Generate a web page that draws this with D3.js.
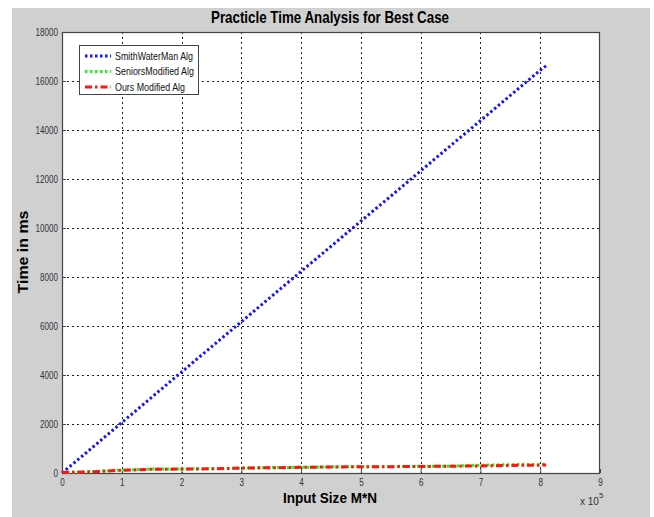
<!DOCTYPE html>
<html><head><meta charset="utf-8">
<script src="https://cdn.jsdelivr.net/npm/d3@7"></script>
<style>body{margin:0;background:#fff}svg{display:block}</style>
</head><body>
<svg id="c" width="654" height="517"></svg>
<script>
const inputSize = [0, 50000, 75000, 100000, 125000, 150000, 200000, 250000, 300000, 350000, 400000, 450000, 500000, 550000, 600000, 650000, 700000, 750000, 800000, 810000];
const smithWaterman = [0, 1020, 1540, 2060, 2570, 3090, 4120, 5150, 6170, 7200, 8230, 9250, 10280, 11300, 12330, 13360, 14380, 15410, 16440, 16620];
const seniorsModified = [10, 60, 90, 120, 140, 160, 165, 175, 205, 220, 235, 250, 255, 262, 272, 280, 320, 340, 350, 355];
const oursModified = [20, 50, 80, 115, 130, 155, 160, 170, 200, 215, 230, 248, 252, 258, 268, 275, 290, 310, 320, 330];
const xTicks = [0, 100000, 200000, 300000, 400000, 500000, 600000, 700000, 800000, 900000];
const xTickLabels = ["0","1","2","3","4","5","6","7","8","9"];
const yTicks = [0, 2000, 4000, 6000, 8000, 10000, 12000, 14000, 16000, 18000];
const seriesNames = ["SmithWaterMan Alg", "SeniorsModified Alg", "Ours Modified Alg"];
const seriesColors = ["#1414ff", "#14ff14", "#ff1414"];
const seriesDash = ["2.5,2.5", "2.5,2.5", "7,3,2.5,3"];
const title = "Practicle Time Analysis for Best Case";
const xLabel = "Input Size M*N";
const yLabel = "Time in ms";

const svg = d3.select("#c");
const L = 62, R = 600, T = 32, B = 473;
const x = d3.scaleLinear().domain([0, 900000]).range([L, R]);
const y = d3.scaleLinear().domain([0, 18000]).range([B, T]);
const font = "'Liberation Sans',Arial,sans-serif";

svg.append("rect").attr("x", 12).attr("y", 8).attr("width", 638).attr("height", 509).attr("fill", "#d0d0d0");
svg.append("rect").attr("x", L).attr("y", T).attr("width", R - L).attr("height", B - T).attr("fill", "#fff");

// grid
const g = svg.append("g");
g.selectAll("line.vg").data(xTicks.slice(1, -1)).join("line")
  .attr("x1", d => Math.round(x(d)) + 0.5).attr("x2", d => Math.round(x(d)) + 0.5)
  .attr("y1", T).attr("y2", B).attr("stroke", "#222").attr("stroke-width", 1).attr("stroke-dasharray", "2,3");
g.selectAll("line.hg").data(yTicks.slice(1, -1)).join("line")
  .attr("y1", d => Math.round(y(d)) + 0.5).attr("y2", d => Math.round(y(d)) + 0.5)
  .attr("x1", L).attr("x2", R).attr("stroke", "#222").attr("stroke-width", 1).attr("stroke-dasharray", "2,3");

// axes
const xa = svg.append("g").attr("transform", `translate(0,${B})`)
  .call(d3.axisBottom(x).tickValues(xTicks).tickFormat((d, i) => xTickLabels[i]).tickSizeInner(-4).tickSizeOuter(0).tickPadding(5));
const ya = svg.append("g").attr("transform", `translate(${L},0)`)
  .call(d3.axisLeft(y).tickValues(yTicks).tickFormat(d3.format("d")).tickSizeInner(-4).tickSizeOuter(0).tickPadding(4));
[xa, ya].forEach(a => {
  a.select(".domain").remove();
  a.selectAll("line").attr("stroke", "#444");
  a.selectAll("text").attr("fill", "#333").style("font-family", font).style("font-size", "11px")
    .attr("textLength", function() { return this.textContent.length * 4.5; })
    .attr("lengthAdjust", "spacingAndGlyphs");
});
svg.append("rect").attr("x", L + 0.5).attr("y", T + 0.5).attr("width", R - L - 1).attr("height", B - T)
  .attr("fill", "none").attr("stroke", "#444").attr("stroke-width", 1.2);

// lines
const allSeries = [smithWaterman, seniorsModified, oursModified];
const line = d3.line().x((d, i) => x(inputSize[i])).y(d => y(d));
allSeries.forEach((s, k) => {
  svg.append("path").datum(s).attr("d", line).attr("fill", "none")
    .attr("stroke", seriesColors[k]).attr("stroke-width", 3).attr("stroke-dasharray", seriesDash[k]);
});

// legend
const lg = svg.append("g");
lg.append("rect").attr("x", 79.5).attr("y", 45.5).attr("width", 119).attr("height", 49)
  .attr("fill", "#fff").attr("stroke", "#444").attr("stroke-width", 1);
const legLens = [78, 79, 70];
seriesNames.forEach((n, k) => {
  const yy = 56 + k * 15.5;
  lg.append("line").attr("x1", 85).attr("x2", 111).attr("y1", yy).attr("y2", yy)
    .attr("stroke", seriesColors[k]).attr("stroke-width", 3).attr("stroke-dasharray", seriesDash[k]);
  lg.append("text").attr("x", 115).attr("y", yy + 3.5).text(n)
    .attr("textLength", legLens[k]).attr("lengthAdjust", "spacingAndGlyphs")
    .style("font-family", font).style("font-size", "10.5px").attr("fill", "#111");
});

// titles
svg.append("text").attr("x", 330).attr("y", 23).attr("text-anchor", "middle").text(title)
  .attr("textLength", 238).attr("lengthAdjust", "spacingAndGlyphs")
  .style("font-family", font).style("font-weight", "bold").style("font-size", "16.5px").attr("fill", "#000");
svg.append("text").attr("x", 330).attr("y", 503).attr("text-anchor", "middle").text(xLabel)
  .attr("textLength", 94).attr("lengthAdjust", "spacingAndGlyphs")
  .style("font-family", font).style("font-weight", "bold").style("font-size", "15px").attr("fill", "#000");
svg.append("text").attr("transform", "translate(28,252) rotate(-90)").attr("text-anchor", "middle").text(yLabel)
  .attr("textLength", 83).attr("lengthAdjust", "spacingAndGlyphs")
  .style("font-family", font).style("font-weight", "bold").style("font-size", "15px").attr("fill", "#000");
const ex = svg.append("text").attr("x", 580).attr("y", 505).style("font-family", font).style("font-size", "10px").attr("fill", "#333");
ex.append("tspan").text("x 10");
ex.append("tspan").attr("dy", -7).style("font-size", "8px").text("5");
</script>
</body></html>
